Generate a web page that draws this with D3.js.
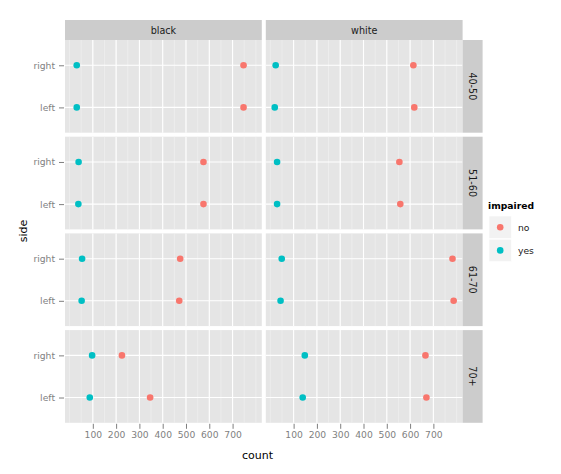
<!DOCTYPE html>
<html>
<head>
<meta charset="utf-8">
<script src="https://cdn.jsdelivr.net/npm/d3@7"></script>
<style>
   body { margin: 0; background: #fff; }
   text { font-family: "DejaVu Sans", sans-serif; }
</style>
</head>
<body>
<div id="chart"></div>
<script>

// CATEGORIES
var races = ['black', 'white'];
var ages = ['40-50', '51-60', '61-70', '70+'];
var sides = ['right', 'left'];
var impaired = ['no', 'yes'];

// COUNTS PER AGE GROUP (40-50, 51-60, 61-70, 70+)
var blackNoRight = [747, 575, 475, 225];
var blackNoLeft = [747, 575, 471, 346];
var blackYesRight = [31, 39, 54, 97];
var blackYesLeft = [31, 38, 52, 87];
var whiteNoRight = [614, 554, 782, 666];
var whiteNoLeft = [618, 558, 787, 670];
var whiteYesRight = [23, 29, 49, 148];
var whiteYesLeft = [19, 29, 44, 139];

// TICK LABELS
var xTicks = [100, 200, 300, 400, 500, 600, 700];

// BUILD LONG TABLE FROM ARRAYS
var series = {
   black: { no: { right: blackNoRight, left: blackNoLeft }, yes: { right: blackYesRight, left: blackYesLeft } },
   white: { no: { right: whiteNoRight, left: whiteNoLeft }, yes: { right: whiteYesRight, left: whiteYesLeft } }
};
var rows = [];
races.forEach(race => {
   impaired.forEach(imp => {
      sides.forEach(side => {
         series[race][imp][side].forEach((v, i) => {
            rows.push({ race: race, age: ages[i], side: side, impaired: imp, count: v });
         });
      });
   });
});

// LAYOUT SETTINGS
var width = 561, height = 474;
var marginLeft = 65, marginTop = 40, stripH = 20, stripW = 20;
var panelW = 196.8, panelH = 92.7, gap = 4;
var colors = d3.scaleOrdinal().domain(impaired).range(['#F8766D', '#00BFC4']);

// SVG CANVAS
var svg = d3.select('#chart').append('svg')
   .attr('width', width)
   .attr('height', height);

svg.append('rect').attr('width', width).attr('height', height).attr('fill', '#fff');

// X-SCALING WITH 5% EXPANSION LIKE GGPLOT
var ext = d3.extent(rows, d => d.count);
var pad = (ext[1] - ext[0]) * 0.05;
var xScale = d3.scaleLinear()
   .domain([ext[0] - pad, ext[1] + pad])
   .range([0, panelW]);

// Y-SCALING
var yScale = d3.scalePoint()
   .domain(sides)
   .range([0, panelH])
   .padding(0.6);

var minor = d3.range(0, 801, 50);

// DRAW PANELS
ages.forEach((age, r) => {
   races.forEach((race, c) => {

      var px = marginLeft + c * (panelW + gap);
      var py = marginTop + r * (panelH + gap);
      var g = svg.append('g').attr('transform', 'translate(' + px + ',' + py + ')');

      // BACKGROUND
      g.append('rect').attr('width', panelW).attr('height', panelH).attr('fill', '#E5E5E5');

      // MINOR GRID
      g.selectAll('.minor')
         .data(minor.filter(v => xScale(v) > 0 && xScale(v) < panelW))
            .enter().append('line')
               .attr('x1', d => xScale(d)).attr('x2', d => xScale(d))
               .attr('y1', 0).attr('y2', panelH)
               .attr('stroke', '#F2F2F2').attr('stroke-width', 0.6)

      // MAJOR GRID
      g.selectAll('.vmajor')
         .data(xTicks)
            .enter().append('line')
               .attr('x1', d => xScale(d)).attr('x2', d => xScale(d))
               .attr('y1', 0).attr('y2', panelH)
               .attr('stroke', '#fff').attr('stroke-width', 1.1)

      g.selectAll('.hmajor')
         .data(sides)
            .enter().append('line')
               .attr('x1', 0).attr('x2', panelW)
               .attr('y1', d => yScale(d)).attr('y2', d => yScale(d))
               .attr('stroke', '#fff').attr('stroke-width', 1.1)

      // POINTS
      g.selectAll('circle')
         .data(rows.filter(d => d.race == race && d.age == age))
            .enter().append('circle')
               .attr('cx', d => xScale(d.count))
               .attr('cy', d => yScale(d.side))
               .attr('r', 3.3)
               .attr('fill', d => colors(d.impaired))

      // TOP STRIPS
      if (r == 0) {
         svg.append('rect')
            .attr('x', px).attr('y', marginTop - stripH)
            .attr('width', panelW).attr('height', stripH)
            .attr('fill', '#CCCCCC');
         svg.append('text')
            .attr('x', px + panelW / 2).attr('y', marginTop - stripH / 2 + 3.5)
            .attr('text-anchor', 'middle')
            .attr('font-size', '9.6px')
            .attr('fill', '#1A1A1A')
            .text(race);
      }

      // RIGHT STRIPS
      if (c == races.length - 1) {
         var sx = px + panelW;
         svg.append('rect')
            .attr('x', sx).attr('y', py)
            .attr('width', stripW).attr('height', panelH)
            .attr('fill', '#CCCCCC');
         svg.append('text')
            .attr('transform', 'translate(' + (sx + stripW / 2 - 3.5) + ',' + (py + panelH / 2) + ') rotate(90)')
            .attr('text-anchor', 'middle')
            .attr('font-size', '9.6px')
            .attr('fill', '#1A1A1A')
            .text(age);
      }

      // Y AXIS
      if (c == 0) {
         var ya = svg.append('g')
            .attr('transform', 'translate(' + (px - 1) + ',' + py + ')')
            .call(d3.axisLeft(yScale).tickSize(5).tickPadding(4));
         ya.select('.domain').remove();
         ya.selectAll('line').attr('stroke', '#7F7F7F');
         ya.selectAll('text').attr('fill', '#7F7F7F').attr('font-size', '9.2px').attr('font-family', 'DejaVu Sans');
      }

      // X AXIS
      if (r == ages.length - 1) {
         var xa = svg.append('g')
            .attr('transform', 'translate(' + px + ',' + (py + panelH + 1) + ')')
            .call(d3.axisBottom(xScale).tickValues(xTicks).tickSize(5).tickPadding(3));
         xa.select('.domain').remove();
         xa.selectAll('line').attr('stroke', '#7F7F7F');
         xa.selectAll('text').attr('fill', '#7F7F7F').attr('font-size', '9.2px').attr('font-family', 'DejaVu Sans');
      }
   });
});

// AXIS TITLES
svg.append('text')
   .attr('x', 257.5).attr('y', 459)
   .attr('text-anchor', 'middle')
   .attr('font-size', '11px')
   .text('count');

svg.append('text')
   .attr('transform', 'translate(27,231) rotate(-90)')
   .attr('text-anchor', 'middle')
   .attr('font-size', '11px')
   .text('side');

// LEGEND
var legend = svg.append('g').attr('transform', 'translate(489,216)');

legend.append('text')
   .attr('x', -1).attr('y', -7.5)
   .attr('font-size', '9.2px')
   .attr('font-weight', 'bold')
   .text('impaired');

var keys = legend.selectAll('.key')
   .data(impaired)
      .enter().append('g')
         .attr('transform', (d, i) => 'translate(0,' + (i * 23.2) + ')')

keys.append('rect')
   .attr('width', 22.4).attr('height', 22.4)
   .attr('fill', '#F2F2F2')
   .attr('stroke', '#fff').attr('stroke-width', 0.6)

keys.append('circle')
   .attr('cx', 11.2).attr('cy', 11.2)
   .attr('r', 3.3)
   .attr('fill', d => colors(d))

keys.append('text')
   .attr('x', 29).attr('y', 14.6)
   .attr('font-size', '9.2px')
   .attr('fill', '#1A1A1A')
   .text(d => d);

</script>
</body>
</html>
